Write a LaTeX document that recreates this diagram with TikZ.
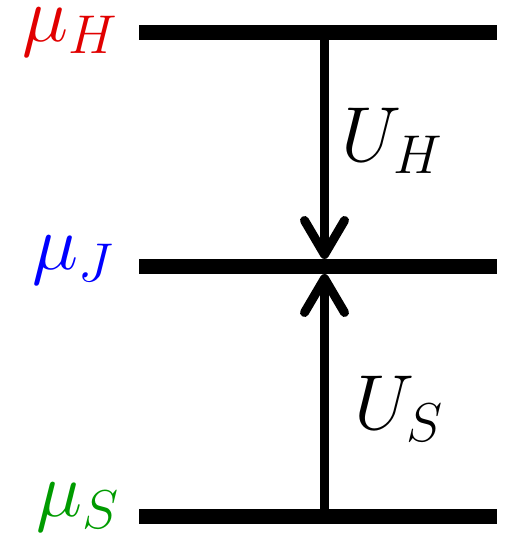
\RequirePackage{fix-cm}
\documentclass[tikz,border=0pt]{standalone}
\usetikzlibrary{arrows.meta}
\definecolor{lred}{RGB}{225,0,0}
\definecolor{lblue}{RGB}{0,0,255}
\definecolor{lgreen}{RGB}{0,155,0}
\tikzset{
  level/.style={line width=15pt, line cap=butt},
  arr/.style={line width=9pt, shorten >=7.5pt, -{Straight Barb[length=34pt,width=40pt,round]}},
  lab/.style={inner sep=0pt, font=\fontsize{78}{90}\selectfont}
}
\begin{document}
\begin{tikzpicture}[x=1pt,y=1pt]
\useasboundingbox (0,0) rectangle (504,534);
% level endpoints
\coordinate (H1) at (139,501);
\coordinate (H2) at (497,501);
\coordinate (J1) at (139,267.5);
\coordinate (J2) at (497,267.5);
\coordinate (S1) at (139,17);
\coordinate (S2) at (497,17);
\coordinate (HA) at (324.5,501);
\coordinate (JA) at (324.5,267.5);
\coordinate (SA) at (324.5,17);
% arrows
\draw[arr] (HA) -- (JA);
\draw[arr] (SA) -- (JA);
% levels
\draw[level] (H1) -- (H2);
\draw[level] (J1) -- (J2);
\draw[level] (S1) -- (S2);
% labels
\node[lab, text=lred, anchor=base east] (muH) at (118,492.5) {$\mu_H$};
\node[lab, text=lblue, anchor=base east] (muJ) at (114,264.5) {$\mu_J$};
\node[lab, text=lgreen, anchor=base east] (muS) at (119,17) {$\mu_S$};
\node[lab, anchor=base west] (UH) at (341,372.5) {$U_H$};
\node[lab, anchor=base west] (US) at (354,104.5) {$U_S$};
\end{tikzpicture}
\end{document}
